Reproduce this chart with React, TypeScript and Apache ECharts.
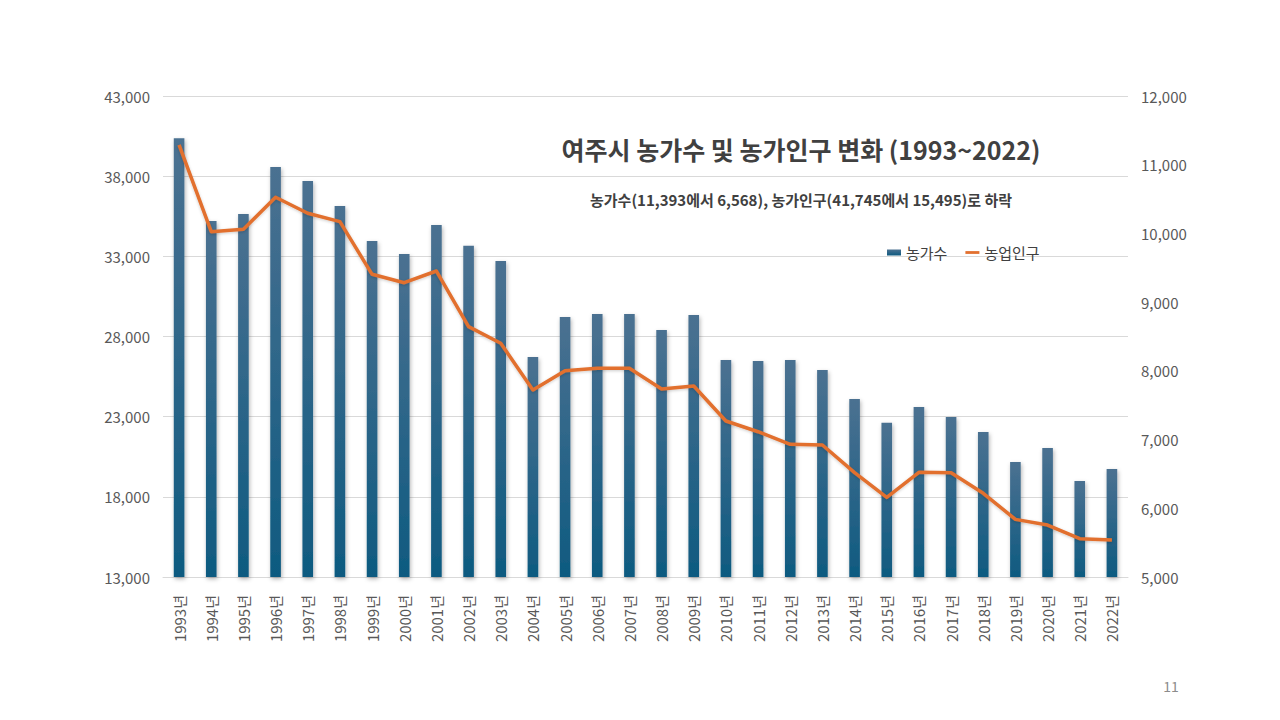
import React, { useRef, useEffect } from "react";
import * as echarts from "echarts";

// 연도 (x축)
const years = [
  "1993년", "1994년", "1995년", "1996년", "1997년", "1998년", "1999년", "2000년",
  "2001년", "2002년", "2003년", "2004년", "2005년", "2006년", "2007년", "2008년",
  "2009년", "2010년", "2011년", "2012년", "2013년", "2014년", "2015년", "2016년",
  "2017년", "2018년", "2019년", "2020년", "2021년", "2022년",
];

// 막대 (왼쪽 축)
const farmHouseholds = [
  40360, 35200, 35640, 38570, 37700, 36140, 33950, 33140, 34950, 33660,
  32710, 26720, 29210, 29400, 29400, 28400, 29340, 26530, 26470, 26530,
  25910, 24100, 22620, 23600, 22980, 22040, 20170, 21040, 18980, 19730,
];

// 선 (오른쪽 축)
const farmPopulation = [
  11290, 10025, 10060, 10526, 10293, 10171, 9405, 9283, 9453, 8643,
  8401, 7721, 8002, 8037, 8037, 7736, 7779, 7270, 7114, 6931,
  6921, 6520, 6159, 6523, 6518, 6218, 5839, 5756, 5557, 5538,
];

const seriesNames = ["농가수", "농업인구"];
const titleText = "여주시 농가수 및 농가인구 변화 (1993~2022)";
const subText = "농가수(11,393에서 6,568), 농가인구(41,745에서 15,495)로 하락";
const pageNo = "11";

const FONT = '"Noto Sans CJK KR", "Noto Sans", sans-serif';
const fmt = (v: number) => v.toLocaleString("en-US");

const App = () => {
  const chartRef = useRef<HTMLDivElement>(null);

  useEffect(() => {
    if (!chartRef.current) return;
    const chart = echarts.init(chartRef.current, null, { renderer: "svg" });

    chart.setOption({
      animation: false,
      backgroundColor: "#ffffff",
      textStyle: { fontFamily: FONT },
      grid: { left: 163, right: 152, top: 96, bottom: 143 },
      legend: {
        left: 882,
        top: 240,
        itemWidth: 14,
        itemHeight: 6,
        itemGap: 18,
        textStyle: { fontSize: 15, color: "#404040", fontFamily: FONT },
        data: [
          { name: seriesNames[0], icon: "rect" },
          { name: seriesNames[1], icon: "path://M0,0H15V3H0Z" },
        ],
      },
      graphic: [
        {
          type: "text",
          x: 801,
          y: 149,
          style: {
            text: titleText,
            fill: "#404040",
            font: `bold 25px ${FONT}`,
            textAlign: "center",
            textVerticalAlign: "middle",
          },
        },
        {
          type: "text",
          x: 801,
          y: 199,
          style: {
            text: subText,
            fill: "#404040",
            font: `bold 15px ${FONT}`,
            textAlign: "center",
            textVerticalAlign: "middle",
          },
        },
        {
          type: "text",
          x: 1171,
          y: 686,
          style: {
            text: pageNo,
            fill: "#8c8c8c",
            font: `14px ${FONT}`,
            textAlign: "center",
            textVerticalAlign: "middle",
          },
        },
      ],
      xAxis: {
        type: "category",
        data: years,
        axisLine: { lineStyle: { color: "#d9d9d9" } },
        axisTick: { show: false },
        axisLabel: {
          interval: 0,
          rotate: 90,
          margin: 18,
          fontSize: 15,
          color: "#595959",
        },
      },
      yAxis: [
        {
          type: "value",
          min: 13000,
          max: 43000,
          interval: 5000,
          axisLine: { show: false },
          axisTick: { show: false },
          splitLine: { lineStyle: { color: "#d9d9d9" } },
          axisLabel: { fontSize: 15, color: "#595959", margin: 13, formatter: fmt },
        },
        {
          type: "value",
          min: 5000,
          max: 12000,
          interval: 1000,
          axisLine: { show: false },
          axisTick: { show: false },
          splitLine: { show: false },
          axisLabel: { fontSize: 15, color: "#595959", margin: 13, formatter: fmt },
        },
      ],
      series: [
        {
          name: seriesNames[0],
          type: "bar",
          yAxisIndex: 0,
          data: farmHouseholds,
          barWidth: "33%",
          itemStyle: {
            color: new echarts.graphic.LinearGradient(0, 0, 0, 1, [
              { offset: 0, color: "#4b7191" },
              { offset: 1, color: "#0e5a80" },
            ]),
            shadowBlur: 4,
            shadowColor: "rgba(0,0,0,0.3)",
            shadowOffsetX: 1,
            shadowOffsetY: 2,
          },
        },
        {
          name: seriesNames[1],
          type: "line",
          yAxisIndex: 1,
          data: farmPopulation,
          symbol: "none",
          lineStyle: {
            color: "#e2702f",
            width: 3.5,
            join: "round",
            shadowBlur: 3,
            shadowColor: "rgba(0,0,0,0.2)",
            shadowOffsetY: 1,
          },
          itemStyle: { color: "#e2702f" },
        },
      ],
    });

    return () => chart.dispose();
  }, []);

  return (
    <div
      ref={chartRef}
      style={{ position: "fixed", left: 0, top: 0, width: 1280, height: 720 }}
    />
  );
};

export default App;
